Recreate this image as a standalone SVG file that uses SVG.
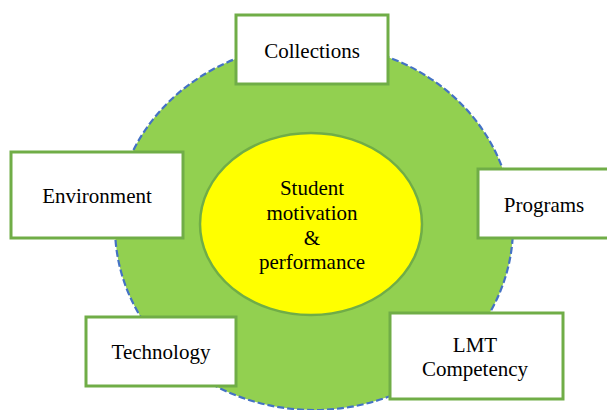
<svg xmlns="http://www.w3.org/2000/svg" width="607" height="410" viewBox="0 0 607 410">
<style>
.box{fill:#fff;stroke:#70AD47;stroke-width:3}
text{font-family:'Liberation Serif','Times New Roman',Times,'DejaVu Serif',serif;font-size:21px;fill:#000;text-anchor:middle}
</style>
<rect width="607" height="410" fill="#fff"/>
<g id="outer">
<ellipse cx="314" cy="227" rx="199" ry="183" fill="#92D050" stroke="#4472C4" stroke-width="2.2" stroke-dasharray="7,3"/>
</g>
<g id="center">
<ellipse cx="311" cy="224" rx="111" ry="91" fill="#FFFF00" stroke="#70AD47" stroke-width="2.5"/>
<text x="312" y="195">Student</text>
<text x="312" y="220">motivation</text>
<text x="312" y="245">&amp;</text>
<text x="312" y="269">performance</text>
</g>
<g id="connectors"></g>
<g id="collections">
<rect class="box" x="236" y="15" width="152" height="69"/>
<text x="312" y="58">Collections</text>
</g>
<g id="environment">
<rect class="box" x="11" y="152" width="172" height="86"/>
<text x="97" y="203">Environment</text>
</g>
<g id="programs">
<rect class="box" x="478" y="169" width="135" height="69"/>
<text x="544" y="212">Programs</text>
</g>
<g id="technology">
<rect class="box" x="86" y="317" width="150" height="69"/>
<text x="161" y="359">Technology</text>
</g>
<g id="lmt">
<rect class="box" x="390" y="313" width="173" height="86"/>
<text x="475" y="352">LMT</text>
<text x="475" y="376">Competency</text>
</g>
</svg>
